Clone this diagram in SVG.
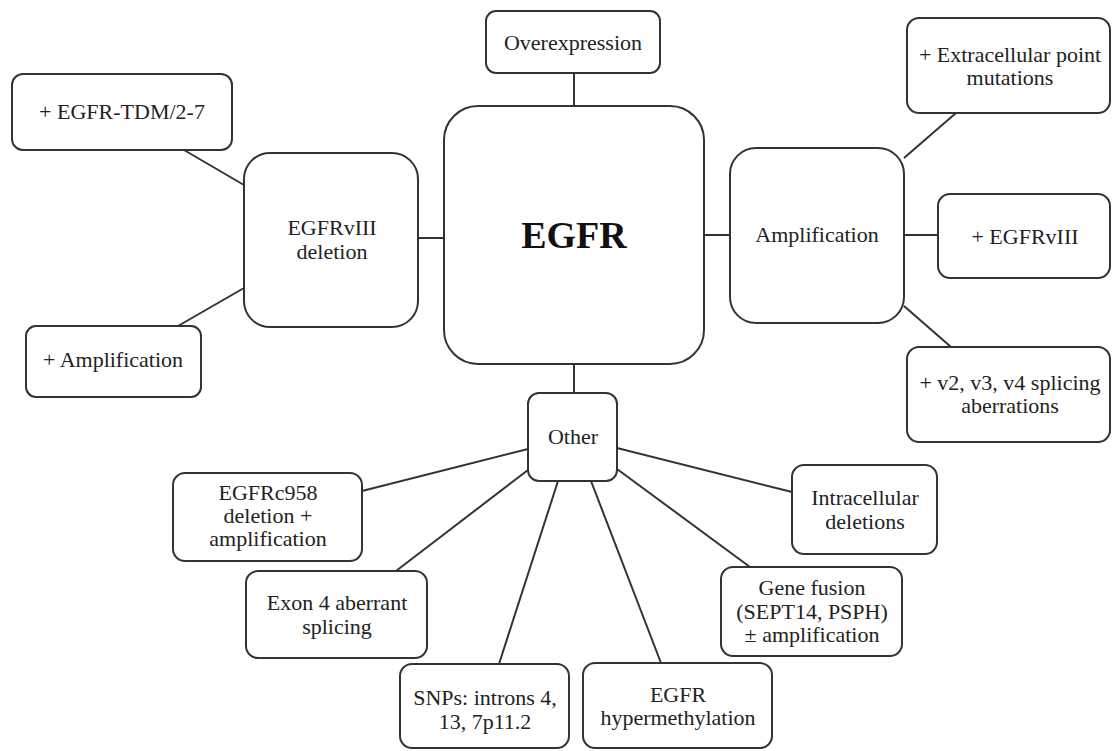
<svg xmlns="http://www.w3.org/2000/svg" width="1112" height="751" viewBox="0 0 1112 751">
<style>
.b{fill:#fff;stroke:#333;stroke-width:2}
.t{font-family:"Liberation Serif","Times New Roman",serif;font-size:22px;fill:#222;text-anchor:middle}
.big{font-size:38px;font-weight:bold;fill:#111}
.c line{stroke:#333;stroke-width:2}
</style>
<rect width="1112" height="751" fill="#fff"/>
<g class="c" id="connectors">
<line x1="574" y1="73" x2="574" y2="106"/>
<line x1="418" y1="238" x2="444" y2="238"/>
<line x1="184" y1="150" x2="244" y2="185"/>
<line x1="178" y1="326" x2="244" y2="288"/>
<line x1="704" y1="235" x2="730" y2="235"/>
<line x1="956" y1="113" x2="904" y2="158"/>
<line x1="904" y1="235" x2="938" y2="235"/>
<line x1="904" y1="306" x2="951" y2="347"/>
<line x1="574" y1="364" x2="574" y2="393"/>
<line x1="362" y1="491" x2="528" y2="449"/>
<line x1="396" y1="571" x2="528" y2="470"/>
<line x1="499" y1="664" x2="558" y2="481"/>
<line x1="591" y1="481" x2="661" y2="663"/>
<line x1="617" y1="469" x2="750" y2="567"/>
<line x1="617" y1="448" x2="792" y2="492"/>
</g>
<g id="egfr"><rect class="b" x="444" y="106" width="260" height="258" rx="34"/><text class="t big" x="574" y="248">EGFR</text></g>
<g id="overexpression"><rect class="b" x="486" y="11" width="174" height="62" rx="10"/><text class="t" x="573" y="50">Overexpression</text></g>
<g id="egfrviii-deletion"><rect class="b" x="244" y="153" width="174" height="174" rx="26"/><text class="t" x="332" y="235">EGFRvIII</text><text class="t" x="332" y="259">deletion</text></g>
<g id="tdm"><rect class="b" x="12" y="74" width="220" height="76" rx="11"/><text class="t" x="122" y="119">+ EGFR-TDM/2-7</text></g>
<g id="plus-amplification"><rect class="b" x="26" y="326" width="175" height="71" rx="10"/><text class="t" x="113" y="367">+ Amplification</text></g>
<g id="amplification"><rect class="b" x="730" y="148" width="174" height="175" rx="26"/><text class="t" x="817" y="242">Amplification</text></g>
<g id="extracellular"><rect class="b" x="907" y="18" width="203" height="95" rx="12"/><text class="t" x="1010" y="62">+ Extracellular point</text><text class="t" x="1010" y="85">mutations</text></g>
<g id="plus-egfrviii"><rect class="b" x="938" y="194" width="172" height="84" rx="12"/><text class="t" x="1025" y="244">+ EGFRvIII</text></g>
<g id="splicing"><rect class="b" x="907" y="347" width="203" height="95" rx="12"/><text class="t" x="1010" y="390">+ v2, v3, v4 splicing</text><text class="t" x="1010" y="413">aberrations</text></g>
<g id="other"><rect class="b" x="528" y="393" width="89" height="88" rx="11"/><text class="t" x="573" y="444">Other</text></g>
<g id="egfrc958"><rect class="b" x="173" y="473" width="189" height="88" rx="12"/><text class="t" x="268" y="500">EGFRc958</text><text class="t" x="268" y="523">deletion +</text><text class="t" x="268" y="546">amplification</text></g>
<g id="exon4"><rect class="b" x="246" y="571" width="181" height="87" rx="12"/><text class="t" x="337" y="610">Exon 4 aberrant</text><text class="t" x="337" y="634">splicing</text></g>
<g id="snps"><rect class="b" x="400" y="664" width="169" height="84" rx="12"/><text class="t" x="485" y="705">SNPs: introns 4,</text><text class="t" x="485" y="729">13, 7p11.2</text></g>
<g id="hypermethylation"><rect class="b" x="583" y="663" width="189" height="85" rx="12"/><text class="t" x="678" y="702">EGFR</text><text class="t" x="678" y="725">hypermethylation</text></g>
<g id="gene-fusion"><rect class="b" x="721" y="567" width="181" height="89" rx="12"/><text class="t" x="812" y="595">Gene fusion</text><text class="t" x="812" y="619">(SEPT14, PSPH)</text><text class="t" x="812" y="642">± amplification</text></g>
<g id="intracellular"><rect class="b" x="792" y="465" width="145" height="89" rx="12"/><text class="t" x="865" y="505">Intracellular</text><text class="t" x="865" y="529">deletions</text></g>
</svg>
